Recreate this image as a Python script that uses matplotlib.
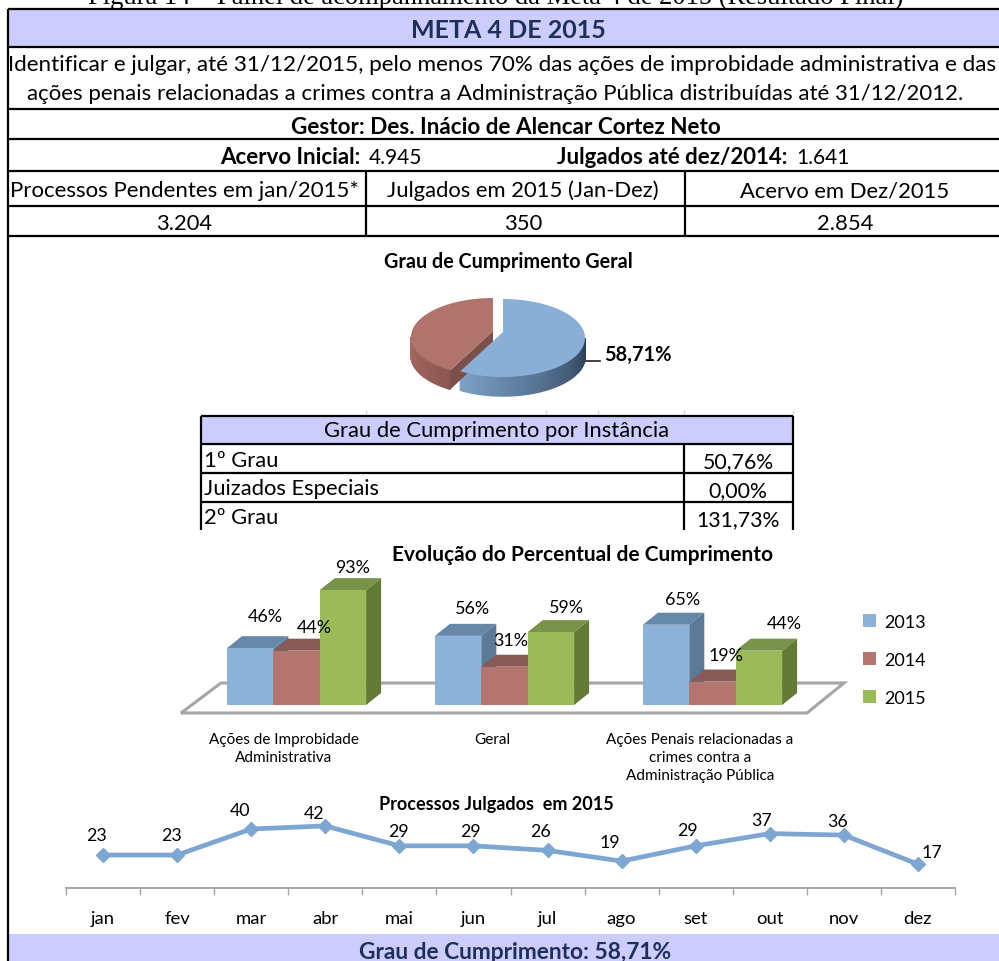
import numpy as np
from matplotlib import pyplot as plt
from matplotlib.patches import Polygon

W, H = 999, 962
FONT = 'Lato'
BAND = '#ccccff'
NAVY = '#1f3055'

caption = 'Figura 14 – Painel de acompanhamento da Meta 4 de 2015 (Resultado Final)'
title = 'META 4 DE 2015'
goal_lines = ['Identificar e julgar, até 31/12/2015, pelo menos 70% das ações de improbidade administrativa e das',
              'ações penais relacionadas a crimes contra a Administração Pública distribuídas até 31/12/2012.']
manager = 'Gestor: Des. Inácio de Alencar Cortez Neto'
summary_heads = ['Processos Pendentes em jan/2015*', 'Julgados em 2015 (Jan-Dez)', 'Acervo em Dez/2015']
summary_vals = ['3.204', '350', '2.854']

pie_values = [58.71, 41.29]
pie_label = '58,71%'

instance_names = ['1º Grau', 'Juizados Especiais', '2º Grau']
instance_vals = ['50,76%', '0,00%', '131,73%']

groups = ['Ações de Improbidade\nAdministrativa', 'Geral',
          'Ações Penais relacionadas a\ncrimes contra a\nAdministração Pública']
years = ['2013', '2014', '2015']
pct_2013 = [46, 56, 65]
pct_2014 = [44, 31, 19]
pct_2015 = [93, 59, 44]

months = ['jan', 'fev', 'mar', 'abr', 'mai', 'jun', 'jul', 'ago', 'set', 'out', 'nov', 'dez']
judged = [23, 23, 40, 42, 29, 29, 26, 19, 29, 37, 36, 17]
# label nudges in pixels, same as the original chart
judged_dx = [-7, -6, -11, -11, -1, -3, -7, -12, -8, -8, -6, 14]
judged_dy = [20, 20, 19, 13, 15, 15, 19, 19, 16, 14, 14, 12]
pct_dx = [[15, 18, 10], [14, 6, 16], [16, 13, 25]]
pct_dy = [[32, 24, 23], [28, 27, 25], [26, 27, 28]]


def px_axes(fig, left, top, right, bottom):
    # axes from a box given in image pixels
    a = fig.add_axes([left / W, 1 - bottom / H, (right - left) / W, (bottom - top) / H])
    a.patch.set_alpha(0)
    return a


def arc(a0, a1, cx, cy, rx=1.0, ry=1.0, n=80):
    t = np.radians(np.linspace(a0, a1, n))
    return np.column_stack([cx + rx * np.cos(t), cy + ry * np.sin(t)])


fig = plt.figure(figsize=(W / 100, H / 100), dpi=100)
base = fig.add_axes([0, 0, 1, 1])
base.set_xlim(0, W)
base.set_ylim(H, 0)
base.axis('off')


def txt(x, y, s, size=15, ha='center', weight='normal', color='black', family=FONT):
    return base.text(x, y, s, fontsize=size, ha=ha, va='center', fontweight=weight,
                     color=color, family=family)


# --- top table ---
base.text(496, 4, caption, fontsize=19.1, ha='center', va='baseline', family='Liberation Serif')
base.fill_between([8, W], 10, 48, color=BAND, lw=0)
base.fill_between([8, W], 935, 962, color=BAND, lw=0)
base.hlines([10, 48, 110, 140, 172, 207, 237], 8, W, color='black', lw=1.6)
base.vlines(8, 10, 962, color='black', lw=1.6)
base.vlines([366, 685], 172, 237, color='black', lw=1.6)

txt(508, 31, title, size=18, weight='bold', color=NAVY)
txt(502.5, 65, goal_lines[0], size=16.2)
txt(495, 94, goal_lines[1], size=16)
txt(506, 127, manager, size=16.2, weight='bold')
txt(360, 157, 'Acervo Inicial:', size=16, ha='right', weight='bold')
txt(369, 158, '4.945', size=15, ha='left')
txt(787, 157, 'Julgados até dez/2014:', size=16, ha='right', weight='bold')
txt(796, 158, '1.641', size=15, ha='left')
for x, h, v, s in zip([184, 523, 845], summary_heads, summary_vals, [16, 15.8, 15.8]):
    txt(x, 191, h, size=s)
    txt(x, 224, v, size=15.8)

# --- pie ---
txt(508, 262, 'Grau de Cumprimento Geral', size=14.2, weight='bold')
RX, RY, DEPTH = 82.0, 39.0, 19.0
pie_ax = px_axes(fig, 380, 280, 620, 410)
# one unit of the axes is the pie radius, squashed in y for the tilt
pie_ax.set_xlim((380 - 503) / RX, (620 - 503) / RX)
pie_ax.set_ylim((339 - 410) / RY, (339 - 280) / RY)
pie_ax.axis('off')
split = 90 - 360 * pie_values[0] / sum(pie_values)
depth = DEPTH / RY
apex = (0, 6 / RY)
red_dx, red_dy = -10 / RX, 1 / RY
blue_side = np.array([[0.49, 0.63, 0.78], [0.17, 0.25, 0.34]])
red_side = np.array([[0.66, 0.42, 0.39], [0.55, 0.34, 0.32]])
blue_edges = np.linspace(split, 0, 60)
for a0, a1, col in zip(blue_edges[:-1], blue_edges[1:], np.linspace(blue_side[0], blue_side[1], 59)):
    top = arc(a0, a1, 0, 0, n=4)
    pie_ax.add_patch(Polygon(np.vstack([top, (top - [0, depth])[::-1]]), fc=col, ec=col, lw=1.0))
red_top = arc(90, 360 + split, red_dx, red_dy)
red_edges = np.linspace(180, 360 + split, 31)
for a0, a1, col in zip(red_edges[:-1], red_edges[1:], np.linspace(red_side[0], red_side[1], 30)):
    top = arc(a0, a1, red_dx, red_dy, n=4)
    pie_ax.add_patch(Polygon(np.vstack([top, (top - [0, depth])[::-1]]), fc=col, ec=col, lw=1.0))
red_apex = np.array([red_dx + apex[0], red_dy + apex[1]])
tip = red_top[-1]
pie_ax.add_patch(Polygon([red_apex, tip, tip - [0, depth], red_apex - [0, depth]], fc='#7b504a', ec='none'))
pie_ax.add_patch(Polygon(np.vstack([red_apex, red_top]), fc='#b0746c', ec='none'))
blue_top = arc(90, split, 0, 0)
pie_ax.add_patch(Polygon(np.vstack([apex, blue_top]), fc='#8aafd6', ec='none'))
base.plot([583, 600], [362, 362], color='#222222', lw=1.2)
txt(604, 355, pie_label, size=14.4, ha='left', weight='bold')

# --- instance table ---
base.vlines([366, 546, 598, 684, 793], 411, 417, color='#d9d9d9', lw=1)
base.fill_between([201, 793], 417, 445, color=BAND, lw=0)
base.hlines([417, 445, 474, 503], 201, 793, color='black', lw=1.6)
base.vlines([201, 793], 417, 531, color='black', lw=1.6)
base.vlines(684, 445, 531, color='black', lw=1.6)
txt(496, 431, 'Grau de Cumprimento por Instância', size=15.8)
for i, (n, v) in enumerate(zip(instance_names, instance_vals)):
    txt(204, 461 + 28.5 * i, n, size=15.8, ha='left')
    txt(738, 462 + 29 * i, v, size=15.3)

# --- 3d bars ---
txt(583, 555, 'Evolução do Percentual de Cumprimento', size=15, weight='bold')
PX_GROUP, PX_PCT = 208.0, 1.235
BASE_X, BASE_Y = 296.5, 706
BOX = (170, 560, 960, 716)
bar_ax = px_axes(fig, *BOX)
bar_ax.set_xlim((BOX[0] - BASE_X) / PX_GROUP, (BOX[2] - BASE_X) / PX_GROUP)
bar_ax.set_ylim((BASE_Y - BOX[3]) / PX_PCT, (BASE_Y - BOX[1]) / PX_PCT)
for s in bar_ax.spines.values():
    s.set_visible(False)
bar_ax.set_yticks([])
bar_ax.set_xticks(np.arange(3) - 0.06, groups, fontsize=11, family=FONT, linespacing=1.4)
bar_ax.tick_params(axis='x', length=0, pad=12)


def fx(x):
    return (x - BASE_X) / PX_GROUP


def fy(y):
    return (BASE_Y - y) / PX_PCT


floor = [(fx(181), fy(714)), (fx(221), fy(684)), (fx(844), fy(684)), (fx(807), fy(714))]
bar_ax.add_patch(Polygon(floor, closed=True, fc='white', ec='#a6a6a6', lw=2.2, zorder=1))

bw = 46.4 / PX_GROUP
dx3, dy3 = 15 / PX_GROUP, 12 / PX_PCT
front = ['#8cb2da', '#b3756f', '#9bbb59']
upper = ['#6787a8', '#875a55', '#78924a']
side = ['#5a7a98', '#7b504a', '#647a36']
series = [pct_2013, pct_2014, pct_2015]
for g in range(3):
    for k, vals in enumerate(series):
        v = vals[g]
        x0 = g + (k - 1.5) * bw
        z = 2 + k * 0.1
        bar_ax.add_patch(Polygon([(x0 + bw, v), (x0 + bw + dx3, v + dy3), (x0 + bw + dx3, dy3), (x0 + bw, 0)],
                                 fc=side[k], ec='none', zorder=z))
        bar_ax.add_patch(Polygon([(x0, v), (x0 + dx3, v + dy3), (x0 + bw + dx3, v + dy3), (x0 + bw, v)],
                                 fc=upper[k], ec='none', zorder=z))
        bar_ax.bar(x0, v, bw, align='edge', color=front[k], zorder=z + 0.01,
                   label=years[k] if g == 0 else None)
        bar_ax.annotate(f'{v}%', (x0 + bw / 2, v), xytext=(pct_dx[g][k], pct_dy[g][k]),
                        textcoords='offset pixels', ha='center', va='center',
                        fontsize=12.9, family=FONT, zorder=5, annotation_clip=False)
bar_ax.legend(loc='upper left', bbox_to_anchor=((863 - BOX[0]) / (BOX[2] - BOX[0]), 1 - (615 - BOX[1]) / (BOX[3] - BOX[1])),
              frameon=False, prop={'family': FONT, 'size': 13}, handlelength=0.72, handleheight=0.72,
              handletextpad=0.45, labelspacing=1.22, borderpad=0, borderaxespad=0)

# --- line chart ---
txt(496, 805, 'Processos Julgados  em 2015', size=13, weight='bold')
line_ax = px_axes(fig, 66, 800, 955, 889)
px_unit = 1.53
line_ax.set_xlim(-0.5, 11.5)
line_ax.set_ylim(23 - (889 - 856) / px_unit, 23 + (856 - 800) / px_unit)
for k in ['top', 'left', 'right']:
    line_ax.spines[k].set_visible(False)
line_ax.spines['bottom'].set_color('#a6a6a6')
line_ax.spines['bottom'].set_linewidth(1.4)
line_ax.set_yticks([])
line_ax.set_xticks(range(12), months, fontsize=13.3, family=FONT)
line_ax.set_xticks(np.arange(13) - 0.5, minor=True)
line_ax.tick_params(axis='x', which='major', length=0, pad=16)
line_ax.tick_params(axis='x', which='minor', length=5, width=1, color='#a6a6a6')
line_ax.plot(range(12), judged, color='#7ea6d3', lw=3.4, marker='D', ms=7.5, mec='#7ea6d3', clip_on=False)
for i, v in enumerate(judged):
    line_ax.annotate(str(v), (i, v), xytext=(judged_dx[i], judged_dy[i]), textcoords='offset pixels',
                     ha='center', va='center', fontsize=12.8, family=FONT, annotation_clip=False)

txt(515, 953, 'Grau de Cumprimento: 58,71%', size=16.4, weight='bold', color=NAVY)

fig.savefig('out.png', dpi=100)
